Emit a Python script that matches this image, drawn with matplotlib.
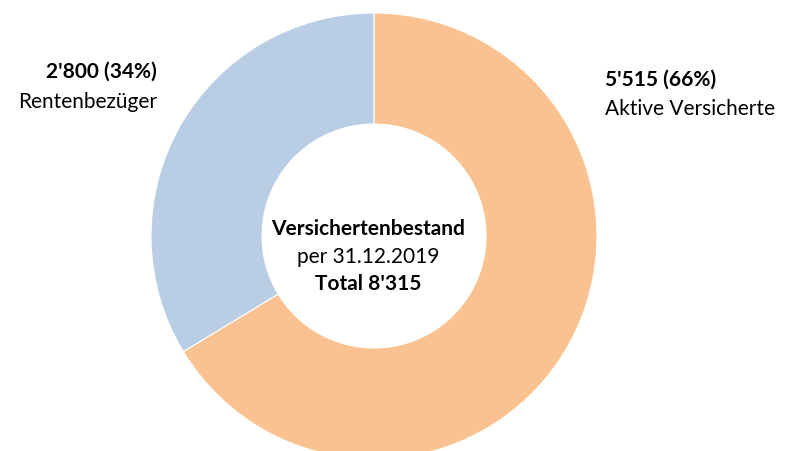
import matplotlib
matplotlib.use("Agg")
import matplotlib.pyplot as plt

plt.rcParams['font.family'] = ['Lato', 'DejaVu Sans']

labels = ["Aktive Versicherte", "Rentenbezüger"]
counts = [5515, 2800]
colors = ["#F9C290", "#B9CDE5"]
total = sum(counts)

fig = plt.figure(figsize=(7.85, 4.52), dpi=100)
ax = fig.add_axes([0, 0, 1, 1])

ax.pie(counts, colors=colors, startangle=90, counterclock=False,
       center=(374, 452 - 237), radius=223,
       wedgeprops=dict(width=111, edgecolor="white", linewidth=0.8))

# pie resets the limits, so set them afterwards
ax.set_xlim(0, 785)
ax.set_ylim(0, 452)
ax.set_aspect("equal")
ax.axis("off")

pct = [round(c / total * 100) for c in counts]
fmt = lambda n: f"{n:,}".replace(",", "'")
fs = 15

# Aktive Versicherte (right)
ax.text(605, 452 - 80, f"{fmt(counts[0])} ({pct[0]}%)", fontsize=fs,
        fontweight="bold", ha="left", va="center")
ax.text(605, 452 - 109, labels[0], fontsize=fs, ha="left", va="center")

# Rentenbezueger (left)
ax.text(157, 452 - 72, f"{fmt(counts[1])} ({pct[1]}%)", fontsize=fs,
        fontweight="bold", ha="right", va="center")
ax.text(157, 452 - 102, labels[1], fontsize=fs, ha="right", va="center")

# centre
ax.text(368, 452 - 229, "Versichertenbestand", fontsize=fs,
        fontweight="bold", ha="center", va="center")
ax.text(368, 452 - 257, "per 31.12.2019", fontsize=fs, ha="center", va="center")
ax.text(368, 452 - 284, f"Total {fmt(total)}", fontsize=fs,
        fontweight="bold", ha="center", va="center")

fig.savefig("out.png", dpi=100)
